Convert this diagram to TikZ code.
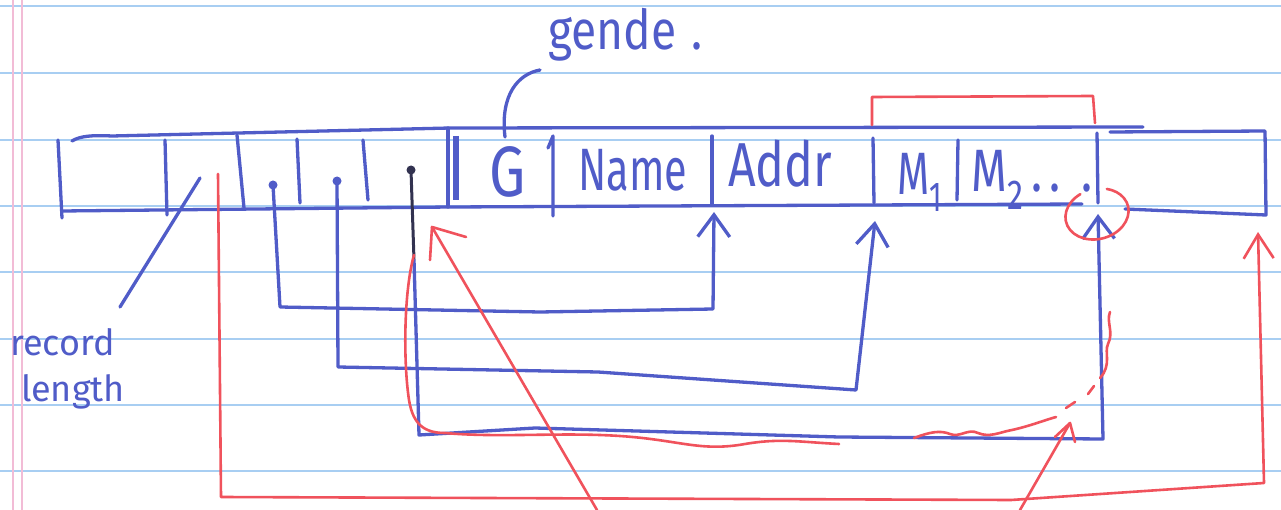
\documentclass[tikz,border=0pt]{standalone}
\usepackage{fontspec}
\setmainfont{Fira Sans}
\usetikzlibrary{arrows.meta}

\definecolor{ink}{RGB}{80,92,200}
\definecolor{darkink}{RGB}{50,50,80}
\definecolor{redink}{RGB}{240,82,92}
\definecolor{ruling}{RGB}{168,206,242}
\definecolor{marginpink}{RGB}{242,188,214}

\tikzset{
  bluepen/.style={draw=ink, line width=3.3pt, line cap=round, line join=round},
  redpen/.style={draw=redink, line width=2.6pt, line cap=round, line join=round},
  paperline/.style={draw=ruling, line width=2.4pt},
  marginline/.style={draw=marginpink, line width=1.4pt},
  bluetip/.style={-{Straight Barb[length=22pt,width=32pt]}},
  redtip/.style={-{Straight Barb[length=24pt,width=30pt]}},
  label/.style={text=ink, inner sep=0pt, anchor=base west},
  cellfont/.style={font=\fontsize{46}{50}\selectfont},
  notefont/.style={font=\fontsize{44}{48}\selectfont},
  dotptr/.style={fill=ink, draw=none},
}
% handwriting is taller and narrower than the typeface
\newcommand\tallword[1]{\scalebox{0.9}[1.3]{#1}}

\begin{document}
\begin{tikzpicture}[x=1pt,y=-1pt]
\fill[white] (0,0) rectangle (1281,510);
\useasboundingbox (0,0) rectangle (1281,510);

% ruled notebook paper
\foreach \y in {6,73,140,206,272,339,405,471}
  \draw[paperline] (0,\y) -- (1281,\y);
\draw[marginline] (13,0) -- (13,510);
\draw[marginline] (22,0) -- (22,510);

% ---------------- the record strip ----------------
\draw[bluepen] (72,141) .. controls (80,136) and (92,135) .. (112,136) -- (450,128) -- (1143,127);
\draw[bluepen] (62,211) -- (450,207) -- (1082,204);
\draw[bluepen] (58,140) -- (62,218);
% header slots
\draw[bluepen] (165,140) -- (167,215);
\draw[bluepen] (237,135) -- (244,208);
\draw[bluepen] (297,139) -- (300,203);
\draw[bluepen] (363,140) -- (368,200);
% end of header
\draw[bluepen] (448,128) -- (448,207);
\draw[draw=ink, line width=6pt] (456,136) -- (456,200);
% field dividers
\draw[bluepen] (548,148) -- (553,136) -- (553,216);
\draw[bluepen] (712,136) -- (712,205);
\draw[bluepen] (873,138) -- (874,203);
\draw[bluepen] (958,140) -- (957,200);
\draw[bluepen] (1097,133) -- (1098,203);
% trailing record
\draw[bluepen] (1110,132) -- (1265,131) -- (1266,215) -- (1125,209);

% field labels
\node[label, cellfont] (gfield) at (489,197) {\scalebox{1.25}[1.55]{G}};
\node[label, cellfont] (namefield) at (578,191) {\tallword{Name}};
\node[label, cellfont] (addrfield) at (728,187) {\scalebox{1.05}[1.35]{Addr}};
\node[label, cellfont] (mone) at (897,195) {\tallword{M\textsubscript{1}}};
\node[label, cellfont] (mtwo) at (971,192) {\scalebox{1.0}[1.3]{M\textsubscript{2}\,.\,.\;\,.}};

% notes
\node[label, notefont] (gendernote) at (548,50) {\scalebox{1.05}[1.25]{gende\,\,.}};
\coordinate (gleaderA) at (505,137);
\coordinate (gleaderB) at (540,70);
\draw[bluepen] (gleaderA) .. controls (500,95) and (518,74) .. (gleaderB);

\node[label, align=left, font=\fontsize{36}{46}\selectfont] (reclen) at (10,401) {record\\\hspace{0.3em}length};
\coordinate (rlA) at (200,178);
\coordinate (rlB) at (120,307);
\draw[bluepen] (rlA) -- (rlB);

% ---------------- offset pointers ----------------
\coordinate (p1) at (273,185);
\coordinate (p2) at (337,181);
\coordinate (p3) at (411,170);
\coordinate (t1) at (714,212);
\coordinate (t2) at (875,221);
\coordinate (t3) at (1098,214);
\fill[dotptr] (p1) circle (4.5pt);
\fill[dotptr] (p2) circle (4.5pt);
\fill[darkink] (p3) circle (4.5pt);

\draw[bluepen, bluetip] (p1) -- (280,307) -- (540,312) -- (713,309) -- (t1);
\draw[bluepen, bluetip] (p2) -- (338,367) -- (598,372) -- (856,390) -- (t2);
\draw[draw=darkink, line width=3pt, line cap=round] (p3) -- (414,260);
\draw[bluepen, bluetip] (414,260) -- (419,435) -- (535,428) -- (839,437) -- (1103,439) -- (t3);

% ---------------- red annotations ----------------
\coordinate (r0) at (218,174);
\coordinate (rt) at (1258,232);
\draw[redpen, redtip] (r0) -- (221,497) -- (1011,500) -- (1264,483) -- (rt);

\coordinate (bk1) at (872,125);
\coordinate (bk2) at (1095,123);
\draw[redpen] (bk1) -- (872,97) -- (1093,96) -- (bk2);

\draw[redpen, rotate around={15:(1097,214)}] (1097,214) ++(110:32pt and 25pt) arc[start angle=110, end angle=420, x radius=32pt, y radius=25pt];

\coordinate (ra) at (597,510);
\coordinate (rta) at (432,227);
\draw[redpen] (ra) -- (rta);
\draw[redpen] (466,237) -- (rta) -- (430,260);

\coordinate (rb) at (1020,510);
\coordinate (rtb) at (1070,423);
\draw[redpen] (rb) -- (rtb);
\draw[redpen] (1055,437) -- (rtb) -- (1075,442);

% red re-tracing of the last pointer
\draw[redpen] (414,255) .. controls (404,290) and (403,360) .. (409,400)
  .. controls (413,425) and (425,433) .. (445,433)
  .. controls (500,438) and (560,432) .. (620,436)
  .. controls (680,440) and (700,452) .. (745,444)
  .. controls (780,438) and (800,442) .. (839,444);
\draw[redpen] (914,438) .. controls (930,432) and (940,430) .. (950,434)
  .. controls (960,438) and (968,428) .. (978,433)
  .. controls (990,438) and (1000,432) .. (1012,430)
  .. controls (1030,426) and (1045,420) .. (1056,417);
\draw[redpen] (1066,408) -- (1075,402);
\draw[redpen] (1088,394) -- (1094,386);
\draw[redpen] (1100,378) .. controls (1112,365) and (1104,352) .. (1108,344)
  .. controls (1114,332) and (1106,322) .. (1110,312);
\end{tikzpicture}
\end{document}
